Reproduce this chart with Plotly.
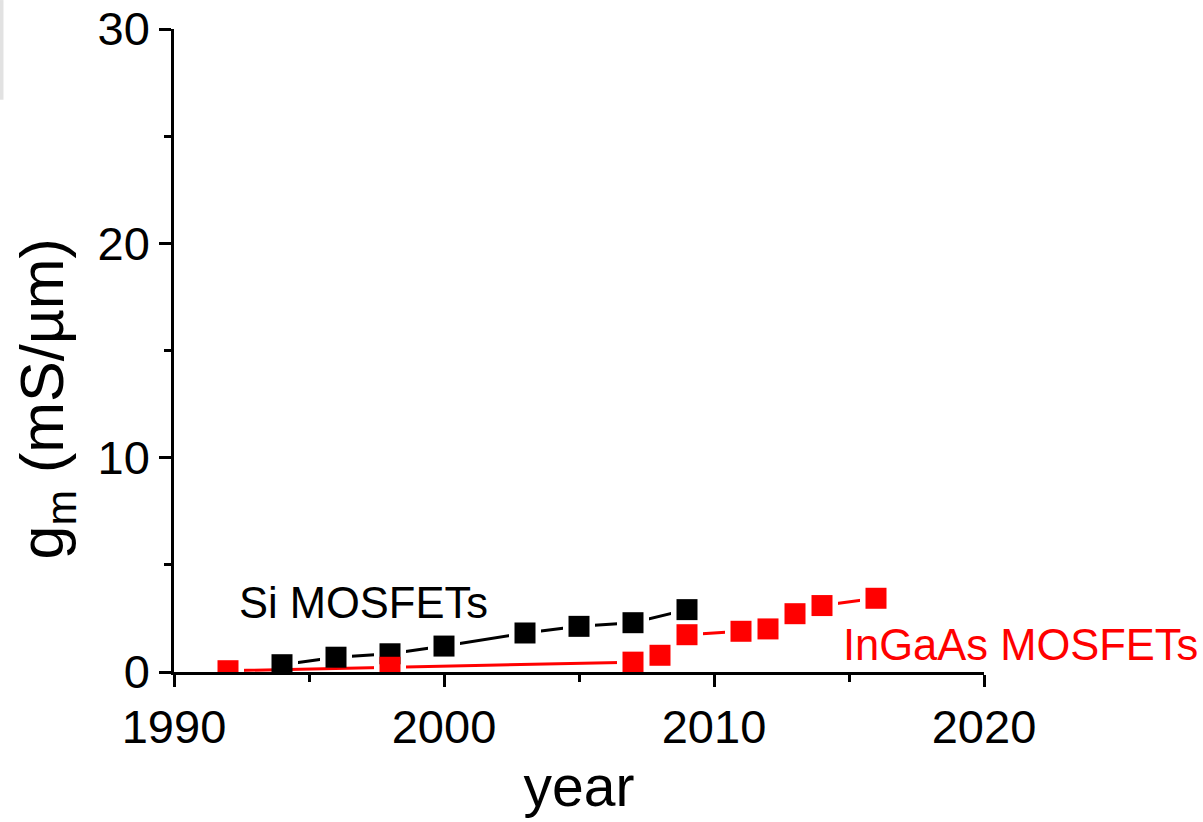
import plotly.graph_objects as go

# ---- data ----
si_years = [1994, 1996, 1998, 2000, 2003, 2005, 2007, 2009]
si_gm = [0.34, 0.69, 0.85, 1.21, 1.82, 2.13, 2.30, 2.91]

ingaas_years = [1992, 1998, 2007, 2008, 2009, 2011, 2012, 2013, 2014, 2016]
ingaas_gm = [0.06, 0.22, 0.46, 0.78, 1.74, 1.90, 2.01, 2.72, 3.10, 3.44]

x_ticks = [1990, 2000, 2010, 2020]
y_ticks = [0, 10, 20, 30]

FONT = "Liberation Sans, Arial, sans-serif"
BLACK = "#000000"
RED = "#ff0000"
MSIZE = 21
HALO = 32

fig = go.Figure()

# black line + halo (gap around markers)
fig.add_trace(go.Scatter(x=si_years, y=si_gm, mode="lines",
                         line=dict(color=BLACK, width=3), showlegend=False, hoverinfo="skip"))
fig.add_trace(go.Scatter(x=si_years, y=si_gm, mode="markers",
                         marker=dict(symbol="square", size=HALO, color="white", line=dict(width=0)),
                         showlegend=False, hoverinfo="skip"))
# red line + halo
fig.add_trace(go.Scatter(x=ingaas_years, y=ingaas_gm, mode="lines",
                         line=dict(color=RED, width=3), showlegend=False, hoverinfo="skip"))
fig.add_trace(go.Scatter(x=ingaas_years, y=ingaas_gm, mode="markers",
                         marker=dict(symbol="square", size=HALO, color="white", line=dict(width=0)),
                         showlegend=False, hoverinfo="skip"))
# markers
fig.add_trace(go.Scatter(x=si_years, y=si_gm, mode="markers", name="Si MOSFETs",
                         marker=dict(symbol="square", size=MSIZE, color=BLACK, line=dict(width=0)),
                         showlegend=False))
fig.add_trace(go.Scatter(x=ingaas_years, y=ingaas_gm, mode="markers", name="InGaAs MOSFETs",
                         marker=dict(symbol="square", size=MSIZE, color=RED, line=dict(width=0)),
                         showlegend=False))

axis_common = dict(
    showline=True, linecolor=BLACK, linewidth=2.5, mirror=False,
    showgrid=False, zeroline=False, automargin=False,
    ticks="outside", ticklen=12, tickwidth=2.5, tickcolor=BLACK,
    tickfont=dict(family=FONT, size=47, color=BLACK),
)

fig.update_xaxes(
    range=[1990, 2020], tickmode="array", tickvals=x_ticks,
    ticktext=[str(v) for v in x_ticks],
    minor=dict(dtick=5, tick0=1990, ticks="outside", ticklen=7, tickwidth=2.5, tickcolor=BLACK, showgrid=False),
    title=dict(text="year", font=dict(family=FONT, size=57, color=BLACK), standoff=14),
    **axis_common,
)
fig.update_yaxes(
    range=[0, 30], tickmode="array", tickvals=y_ticks,
    ticktext=[str(v) for v in y_ticks],
    minor=dict(dtick=5, tick0=0, ticks="outside", ticklen=7, tickwidth=2.5, tickcolor=BLACK, showgrid=False),
    **axis_common,
)

fig.update_layout(
    width=1203, height=822,
    margin=dict(l=174, r=219, t=29, b=150, pad=0, autoexpand=False),
    paper_bgcolor="white", plot_bgcolor="white",
    font=dict(family=FONT, color=BLACK),
    annotations=[
        dict(text="g<sub>m</sub> (mS/µm)", xref="paper", yref="paper",
             x=-0.157, y=0.425, xanchor="center", yanchor="middle", textangle=-90,
             showarrow=False, font=dict(family=FONT, size=61, color=BLACK)),
        dict(text="Si MOSFETs", xref="x", yref="y", x=1992.35, y=3.22,
             xanchor="left", yanchor="middle", showarrow=False,
             font=dict(family=FONT, size=43.5, color=BLACK)),
        dict(text="InGaAs MOSFETs", xref="x", yref="y", x=2014.7, y=1.26,
             xanchor="left", yanchor="middle", showarrow=False,
             font=dict(family=FONT, size=43.5, color=RED)),
    ],
    shapes=[
        dict(type="line", xref="paper", yref="paper", x0=-0.213, x1=-0.213, y0=1.045, y1=0.89,
             line=dict(color="#e2e2e2", width=4)),
    ],
)

fig.write_html("out.html")
